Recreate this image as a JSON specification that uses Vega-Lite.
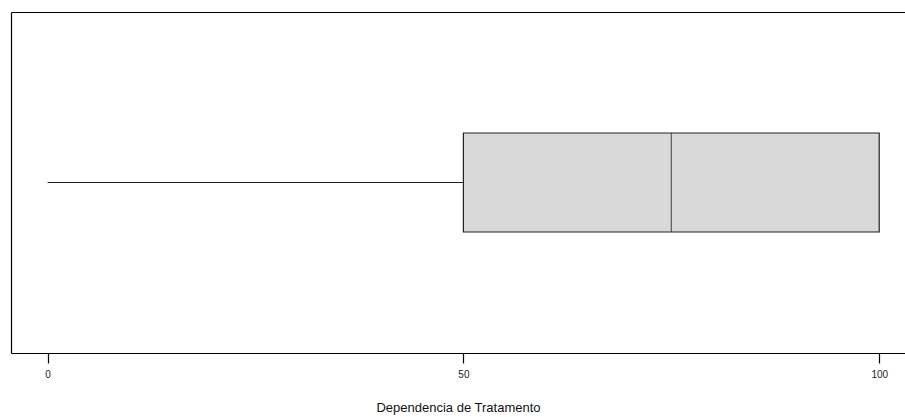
{
  "$schema": "https://vega.github.io/schema/vega-lite/v6.json",
  "autosize": "none",
  "padding": {"left": 11, "top": 12, "right": 0, "bottom": 64},
  "width": 894,
  "height": 341,
  "background": "white",
  "config": {
    "view": {"stroke": null},
    "font": "Liberation Sans",
    "axis": {"grid": false, "domainColor": "#000000", "domainWidth": 1.2, "tickColor": "#000000"}
  },
  "data": {"values": [
    {"grupo": "Dependencia", "minimo": 0, "q1": 50, "mediana": 75, "q3": 100, "maximo": 100}
  ]},
  "resolve": {"axis": {"x": "independent"}},
  "layer": [
    {
      "mark": {"type": "rule", "color": "#222222", "strokeWidth": 1.2},
      "encoding": {
        "x": {"field": "minimo", "type": "quantitative",
              "scale": {"domain": [-4.4, 103.1], "nice": false, "zero": false},
              "axis": {"orient": "top", "labels": false, "ticks": false, "title": null}},
        "x2": {"field": "q1"},
        "y": {"field": "grupo", "type": "nominal",
              "axis": {"orient": "left", "labels": false, "ticks": false, "title": null}}
      }
    },
    {
      "mark": {"type": "bar", "fill": "#d9d9d9", "stroke": "#222222", "strokeWidth": 1.2, "size": 99},
      "encoding": {
        "x": {"field": "q1", "type": "quantitative",
              "axis": {"orient": "bottom", "values": [0, 50, 100], "tickSize": 10, "tickWidth": 1.2,
                       "labelFontSize": 10, "labelPadding": 6, "labelColor": "#222222",
                       "title": "Dependencia de Tratamento", "titleFontSize": 13, "titleFontWeight": "normal",
                       "titleColor": "#111111", "titlePadding": 22}},
        "x2": {"field": "q3"},
        "y": {"field": "grupo", "type": "nominal"}
      }
    },
    {
      "mark": {"type": "tick", "color": "#222222", "thickness": 1.2, "size": 99, "orient": "vertical"},
      "encoding": {
        "x": {"field": "mediana", "type": "quantitative", "axis": null},
        "y": {"field": "grupo", "type": "nominal"}
      }
    }
  ]
}
